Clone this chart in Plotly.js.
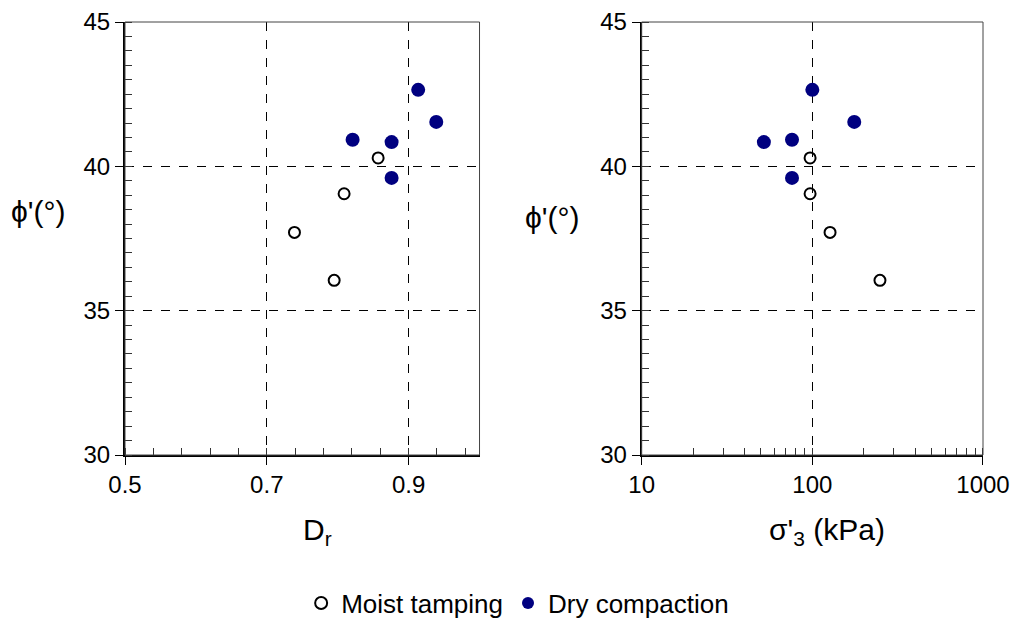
<!DOCTYPE html>
<html>
<head>
<meta charset="utf-8">
<script src="https://cdn.plot.ly/plotly-3.0.1.min.js"></script>
<style>html,body{margin:0;padding:0;background:#fff;}#chart{width:1017px;height:618px;}</style>
</head>
<body>
<div id="chart"></div>
<script>
// Moist tamping (open circles)
const moistDr = [0.857, 0.809, 0.739, 0.795];
const moistSigma = [97, 97, 127, 249];
const moistPhi = [40.29, 39.05, 37.71, 36.05];
// Dry compaction (filled circles)
const dryDr = [0.9135, 0.939, 0.821, 0.876, 0.876];
const drySigma = [100, 176, 76, 52, 76];
const dryPhi = [42.65, 41.54, 40.92, 40.84, 39.60];

const legendLabels = ['Moist tamping', 'Dry compaction'];
const xTitles = ['D<sub>r</sub>', "σ'<sub>3</sub> (kPa)"];
const yTitle = "ϕ'(°)";

const font = 'Liberation Sans, Arial, sans-serif';
const navy = '#000080';

const openMarker = {symbol: 'circle-open', size: 11, color: '#000', line: {width: 2, color: '#000'}};
const fillMarker = {symbol: 'circle', size: 14, color: navy, line: {width: 0}};

const traces = [
  {x: moistDr, y: moistPhi, type: 'scatter', mode: 'markers', name: legendLabels[0], marker: openMarker, xaxis: 'x', yaxis: 'y', legendgroup: 'm'},
  {x: dryDr, y: dryPhi, type: 'scatter', mode: 'markers', name: legendLabels[1], marker: fillMarker, xaxis: 'x', yaxis: 'y', legendgroup: 'd'},
  {x: moistSigma, y: moistPhi, type: 'scatter', mode: 'markers', name: legendLabels[0], marker: openMarker, xaxis: 'x2', yaxis: 'y2', showlegend: false, legendgroup: 'm'},
  {x: drySigma, y: dryPhi, type: 'scatter', mode: 'markers', name: legendLabels[1], marker: fillMarker, xaxis: 'x2', yaxis: 'y2', showlegend: false, legendgroup: 'd'}
];

const yCommon = {
  range: [30, 45], dtick: 5, tick0: 30,
  showline: true, linecolor: '#000', linewidth: 2,
  ticks: 'outside', ticklen: 8, tickwidth: 1, tickcolor: '#000',
  minor: {dtick: 0.5, ticks: 'inside', ticklen: 7, tickcolor: '#333', tickwidth: 1, showgrid: false},
  showgrid: true, gridcolor: '#000', gridwidth: 1, griddash: 'dash',
  zeroline: false,
  tickfont: {family: font, size: 24, color: '#000'}
};

const titleFont = {family: font, size: 30, color: '#000'};

const layout = {
  width: 1017, height: 618,
  margin: {l: 125, r: 34, t: 22, b: 163},
  paper_bgcolor: '#fff', plot_bgcolor: '#fff',
  font: {family: font, color: '#000'},
  showlegend: true,
  legend: {orientation: 'h', xref: 'container', yref: 'container',
           x: 0.509, xanchor: 'center', y: 0.024, yanchor: 'middle',
           font: {family: font, size: 26, color: '#000'}, itemsizing: 'constant', itemwidth: 30,
           tracegroupgap: 0, bgcolor: 'rgba(0,0,0,0)'},
  xaxis: {
    domain: [0, 0.4132], anchor: 'y',
    range: [0.5, 1.0], dtick: 0.2, tick0: 0.5, tickformat: '.1f',
    showline: true, linecolor: '#000', linewidth: 1.5,
    ticks: 'outside', ticklen: 8, tickwidth: 1, tickcolor: '#000',
    minor: {dtick: 0.04, tick0: 0.5, ticks: 'inside', ticklen: 7, tickcolor: '#333', tickwidth: 1, showgrid: false},
    showgrid: true, gridcolor: '#000', gridwidth: 1, griddash: 'dash',
    zeroline: false,
    tickfont: {family: font, size: 24, color: '#000'}
  },
  yaxis: Object.assign({}, yCommon, {domain: [0, 1], anchor: 'x'}),
  xaxis2: {
    domain: [0.6022, 1], anchor: 'y2', type: 'log',
    range: [1, 3], dtick: 1,
    showline: true, linecolor: '#000', linewidth: 1.5,
    ticks: 'outside', ticklen: 8, tickwidth: 1, tickcolor: '#000',
    minor: {dtick: 'D1', ticks: 'inside', ticklen: 7, tickcolor: '#333', tickwidth: 1, showgrid: false},
    showgrid: true, gridcolor: '#000', gridwidth: 1, griddash: 'dash',
    zeroline: false,
    tickfont: {family: font, size: 24, color: '#000'}
  },
  yaxis2: Object.assign({}, yCommon, {domain: [0, 1], anchor: 'x2'}),
  annotations: [
    {text: xTitles[0], x: 317 / 1017, y: 1 - 531 / 618, xanchor: 'center', yanchor: 'middle', showarrow: false, font: titleFont},
    {text: xTitles[1], x: 827 / 1017, y: 1 - 531 / 618, xanchor: 'center', yanchor: 'middle', showarrow: false, font: titleFont},
    {text: yTitle, x: 38 / 1017, y: 1 - 212 / 618, xanchor: 'center', yanchor: 'middle', showarrow: false, font: titleFont},
    {text: yTitle, x: 552 / 1017, y: 1 - 218 / 618, xanchor: 'center', yanchor: 'middle', showarrow: false, font: titleFont}
  ].map(a => Object.assign(a, {xref: 'paper', yref: 'paper'})),
  shapes: [
    {type: 'rect', xref: 'x domain', yref: 'y domain', x0: 0, x1: 1, y0: 0, y1: 1, line: {color: '#444', width: 1}, layer: 'above'},
    {type: 'rect', xref: 'x2 domain', yref: 'y2 domain', x0: 0, x1: 1, y0: 0, y1: 1, line: {color: '#444', width: 1}, layer: 'above'}
  ]
};

// annotations positioned in full-page fractions: convert to paper (plot-area) coordinates
const plotW = 1017 - layout.margin.l - layout.margin.r;
const plotH = 618 - layout.margin.t - layout.margin.b;
layout.annotations.forEach(a => {
  const px = a.x * 1017, py = (1 - a.y) * 618;
  a.x = (px - layout.margin.l) / plotW;
  a.y = (618 - layout.margin.b - py) / plotH;
});

Plotly.newPlot('chart', traces, layout, {displayModeBar: false, staticPlot: true});
</script>
</body>
</html>
